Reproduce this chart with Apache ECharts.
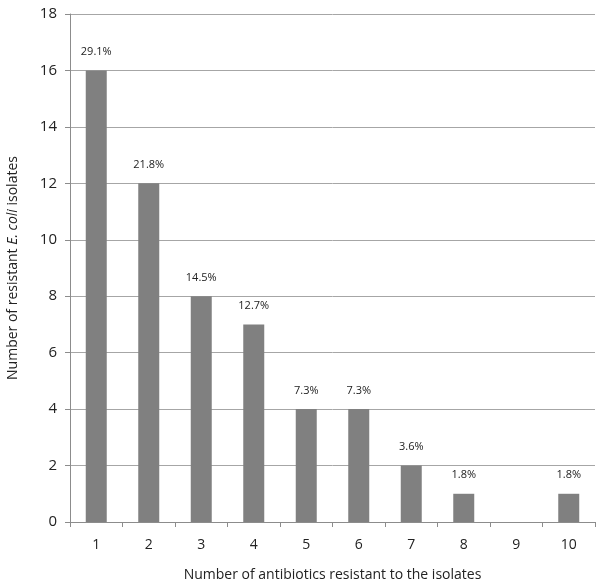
<!DOCTYPE html>
<html><head><meta charset="utf-8">
<script src="https://cdn.jsdelivr.net/npm/echarts@6/dist/echarts.min.js"></script>
<style>html,body{margin:0;padding:0;background:#fff}#c{width:600px;height:582px}</style>
</head><body><div id="c"></div>
<script>
const categories = ['1','2','3','4','5','6','7','8','9','10'];
const counts = [16, 12, 8, 7, 4, 4, 2, 1, 0, 1];
const percentLabels = ['29.1%','21.8%','14.5%','12.7%','7.3%','7.3%','3.6%','1.8%','','1.8%'];

const chart = echarts.init(document.getElementById('c'), null, {renderer:'canvas'});
chart.setOption({
  animation:false,
  backgroundColor:'#fff',
  grid:{left:70, right:5, top:14, bottom:60, containLabel:false, outerBoundsMode:'none'},
  xAxis:{
    type:'category', data:categories,
    axisLine:{lineStyle:{color:'#8c8c8c', width:1}},
    axisTick:{show:true, length:5, lineStyle:{color:'#8c8c8c'}},
    axisLabel:{color:'#222', fontSize:14, margin:16, fontFamily:'Open Sans'},
    name:'Number of antibiotics resistant to the isolates',
    nameLocation:'middle', nameGap:46,
    nameTextStyle:{color:'#222', fontSize:14, fontFamily:'Open Sans'}
  },
  yAxis:{
    type:'value', min:0, max:18, interval:2,
    axisLine:{show:true, lineStyle:{color:'#8c8c8c'}},
    axisTick:{show:true, length:5, lineStyle:{color:'#8c8c8c'}},
    splitLine:{lineStyle:{color:'#a6a6a6', width:1}},
    axisLabel:{color:'#222', fontSize:15, margin:13, fontFamily:'Open Sans'},
    name:'{n|Number of resistant }{i|E. coli}{n| isolates}',
    nameLocation:'middle', nameGap:50, nameRotate:90,
    nameTextStyle:{rich:{
      n:{color:'#222', fontSize:14, fontFamily:'Open Sans'},
      i:{color:'#222', fontSize:14, fontStyle:'italic', fontFamily:'Open Sans'}
    }}
  },
  series:[{
    type:'bar', data:counts, barWidth:'40%',
    itemStyle:{color:'#808080'},
    label:{show:true, position:'top', distance:13, color:'#222', fontSize:11, fontFamily:'Open Sans',
      formatter:p=>percentLabels[p.dataIndex]}
  }]
});
</script></body></html>
